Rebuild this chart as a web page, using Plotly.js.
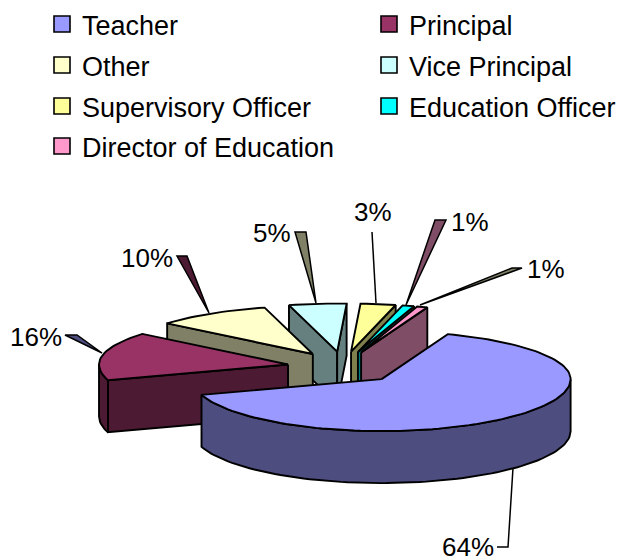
<!DOCTYPE html>
<html><head><meta charset="utf-8">
<script src="https://cdn.plot.ly/plotly-3.0.1.min.js"></script>
<style>html,body{margin:0;padding:0;background:#fff}</style>
</head><body><div id="chart" style="width:625px;height:558px"></div>
<script>
// Data
var categories = ['Teacher','Principal','Other','Vice Principal','Supervisory Officer','Education Officer','Director of Education'];
var values = [64.4,15.9,9.9,4.9,3.0,1.0,0.9];
var topColors = ['#9999FF','#993366','#FFFFCC','#CCFFFF','#FFFF99','#00FFFF','#FF99CC'];
var sideColors = ['#4D4D80','#4D1A33','#808066','#668080','#80804D','#008080','#804D66'];
var paintOrder = [3,4,5,6,2,1,0];

// Pie geometry (style)
var startDeg = 20.5, cx = 343, cy = 367.5, rx = 189, ryBack = 48, ryFront = 52, depth = 52, explodeX = 56, explodeY = 16;
var FONT = 'Liberation Sans, Arial, sans-serif', LW = 1.9;

var total = values.reduce(function(a,b){return a+b;},0);
function pt(ax,ay,deg){
  var r = deg*Math.PI/180, c = Math.cos(r);
  return [ax+rx*Math.sin(r), ay-c*(c>0?ryBack:ryFront)];
}
function poly(points,color){
  var xs = points.map(function(p){return p[0];}), ys = points.map(function(p){return p[1];});
  xs.push(xs[0]); ys.push(ys[0]);
  return {type:'scatter',mode:'lines',x:xs,y:ys,fill:'toself',fillcolor:color,
    line:{color:'#000',width:LW,shape:'linear'},hoverinfo:'skip',showlegend:false};
}
var spans = [], acc = startDeg;
values.forEach(function(v){ var s = v/total*360; spans.push([acc,acc+s]); acc += s; });

var traces = [];
paintOrder.forEach(function(i){
  var a0 = spans[i][0], a1 = spans[i][1], mid = (a0+a1)/2*Math.PI/180;
  var ax = cx+explodeX*Math.sin(mid), ay = cy-explodeY*Math.cos(mid);
  var apex = [ax,ay], apexD = [ax,ay+depth];
  var p0 = pt(ax,ay,a0), p1 = pt(ax,ay,a1);
  // radial cut walls, only those that face the viewer
  if(Math.sin(a0*Math.PI/180)<0) traces.push(poly([apex,p0,[p0[0],p0[1]+depth],apexD],sideColors[i]));
  if(Math.sin(a1*Math.PI/180)>0) traces.push(poly([apex,p1,[p1[0],p1[1]+depth],apexD],sideColors[i]));
  var arc = [], n = Math.max(4,Math.ceil((a1-a0)/2));
  for(var k=0;k<=n;k++) arc.push(pt(ax,ay,a0+(a1-a0)*k/n));
  // outer rim: only the part of the arc that faces the viewer
  var front = arc.filter(function(p,k){ var d=a0+(a1-a0)*k/n; return Math.cos(d*Math.PI/180)<=0.02; });
  if(front.length>1){
    var low = front.map(function(p){return [p[0],p[1]+depth];}).reverse();
    traces.push(poly(front.concat(low),sideColors[i]));
  }
  traces.push(poly([apex].concat(arc),topColors[i]));
});

// legend: one single-entry Plotly legend per category, placed on a 2-column grid
var layoutLegends = {};
var colLeft = [42, 369], rowTop = [0, 41, 82, 122];
categories.forEach(function(name,i){
  var key = i===0 ? 'legend' : 'legend'+(i+1);
  traces.push({type:'scatter',mode:'markers',x:[null],y:[null],name:name,showlegend:true,hoverinfo:'skip',
    legend:key,marker:{symbol:'square',size:16,color:topColors[i],line:{color:'#000',width:1.6}}});
  layoutLegends[key] = {x:colLeft[i%2]/625,xanchor:'left',y:1-rowTop[Math.floor(i/2)]/558,yanchor:'top',
    itemwidth:30,itemsizing:'trace',font:{family:FONT,size:27,color:'#000'},bgcolor:'rgba(0,0,0,0)'};
});

function path(points,closed){
  return 'M'+points.map(function(p){return p[0]+','+p[1];}).join('L')+(closed?'Z':'');
}
var leaders = [
  {p:[[65,335],[77,335],[102,353]],c:'#4D4D80'},
  {p:[[177,256],[187,256],[209,313]],c:'#4D1A33'},
  {p:[[295,232],[306,232],[316,303]],c:'#808066'},
  {p:[[372,232],[376,303]],c:null},
  {p:[[435,220],[446,220],[406,305]],c:'#804D66'},
  {p:[[512,268],[522,268],[420,305]],c:'#808066'},
  {p:[[513,468],[508,547],[497,547]],c:null}
];
var shapes = leaders.map(function(l){
  return {type:'path',xref:'x',yref:'y',path:path(l.p,!!l.c),fillcolor:l.c||'rgba(0,0,0,0)',line:{color:'#000',width:1.5}};
});
var labelIndex = [1,2,3,4,5,6,0];
var labelPos = [[36,337],[147,258],[272,233],[373,212],[470,222],[546,269],[468,547]];
var annotations = labelIndex.map(function(v,k){
  return {xref:'x',yref:'y',x:labelPos[k][0],y:labelPos[k][1],text:Math.round(values[v])+'%',showarrow:false,
    xanchor:'center',yanchor:'middle',font:{family:FONT,size:26,color:'#000'}};
});

var layout = Object.assign({
  width:625,height:558,margin:{l:0,r:0,t:0,b:0},paper_bgcolor:'#fff',plot_bgcolor:'#fff',
  xaxis:{range:[0,625],visible:false,fixedrange:true},
  yaxis:{range:[558,0],visible:false,fixedrange:true},
  shapes:shapes,annotations:annotations
}, layoutLegends);
Plotly.newPlot('chart',traces,layout,{displayModeBar:false,staticPlot:true});
</script></body></html>
